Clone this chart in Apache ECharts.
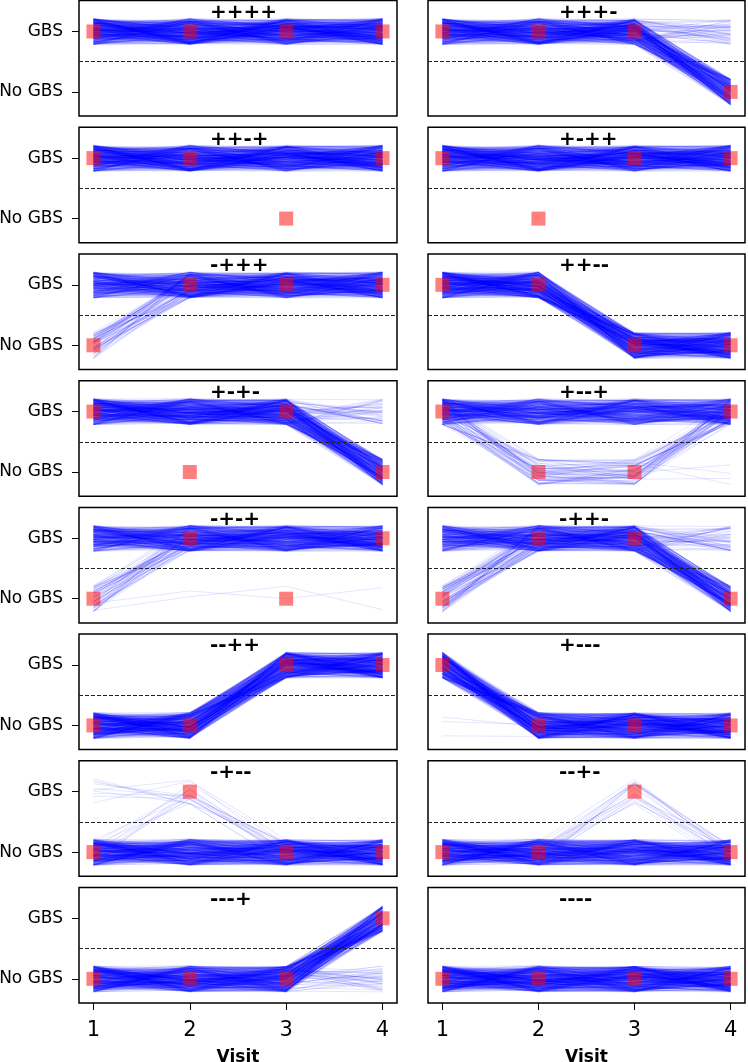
<!DOCTYPE html>
<html>
<head>
<meta charset="utf-8">
<script src="https://cdn.jsdelivr.net/npm/echarts@6/dist/echarts.min.js"></script>
<style>
html,body{margin:0;padding:0;background:#fff;}
#chart{width:748px;height:1062px;}
</style>
</head>
<body>
<div id="chart"></div>
<script>
// ---- data ----
const titles = ["++++","+++-","++-+","+-++","-+++","++--","+-+-","+--+","-+-+","-++-","--++","+---","-+--","--+-","---+","----"];
const visits = [1, 2, 3, 4];
const yTickValues = [0, 1];
const yTickLabels = ["No GBS", "GBS"];
// observed pattern per panel (1 = GBS, 0 = No GBS)
const observed = [
  [1,1,1,1],[1,1,1,0],[1,1,0,1],[1,0,1,1],
  [0,1,1,1],[1,1,0,0],[1,0,1,0],[1,0,0,1],
  [0,1,0,1],[0,1,1,0],[0,0,1,1],[1,0,0,0],
  [0,1,0,0],[0,0,1,0],[0,0,0,1],[0,0,0,0]
];
// predicted trajectories per panel: [pattern, number of draws]
const predicted = [
  [[[1,1,1,1],400]],
  [[[1,1,1,0],330],[[1,1,1,1],50]],
  [[[1,1,1,1],400]],
  [[[1,1,1,1],400]],
  [[[1,1,1,1],300],[[0,1,1,1],70]],
  [[[1,1,0,0],400]],
  [[[1,1,1,0],340],[[1,1,1,1],45]],
  [[[1,1,1,1],300],[[1,0,0,1],60],[[1,0,0,0],4]],
  [[[1,1,1,1],300],[[0,1,1,1],60],[[0,0,0,0],2]],
  [[[1,1,1,0],240],[[0,1,1,0],70],[[1,1,1,1],40],[[0,1,1,1],12]],
  [[[0,0,1,1],400]],
  [[[1,0,0,0],397],[[0,0,0,0],3]],
  [[[0,0,0,0],360],[[0,1,0,0],10],[[1,1,0,0],10]],
  [[[0,0,0,0],360],[[0,0,1,0],20]],
  [[[0,0,0,1],340],[[0,0,0,0],40]],
  [[[0,0,0,0],400]]
];
// fixed jitter offsets (display jitter of the plotted draws)
const jitter = [0.12,-0.17,0.03,0.19,-0.08,-0.14,0.07,-0.02,0.16,-0.19,0.10,-0.05,0.01,0.18,-0.11,0.06,-0.16,0.14,-0.03,0.09,
  -0.20,0.04,0.15,-0.09,-0.13,0.11,0.00,-0.18,0.17,-0.06,0.08,-0.12,0.20,-0.01,0.05,-0.15,0.13,-0.07,0.02,-0.19,
  0.18,-0.10,0.07,0.14,-0.04,-0.17,0.10,-0.13,0.03,0.16,-0.08,0.19,-0.02,-0.11,0.06,0.12,-0.16,0.01,-0.06,0.15,
  -0.20,0.09,-0.14,0.04,0.17,-0.09,0.11,-0.03,-0.18,0.13,0.02,-0.12,0.08,-0.05,0.20,-0.15,0.05,-0.07,0.14,-0.10,
  0.18,-0.01,-0.16,0.10,0.07,-0.19,0.03,0.16,-0.04,-0.12,0.12,-0.08,0.01,0.19,-0.14,0.06,-0.17];

// ---- layout ----
const FONT = "DejaVu Sans";
const colLeft = [79, 428];
const colWidth = [318, 317];
const rowTop0 = 0.6, rowStep = 126.7, panelH = 115.5;
const L = jitter.length, M = L - 8;
const SPREAD = 0.215;
function jit(k, v){
  const a = (jitter[(k + 31 * v) % L] + 0.2) / 0.4;
  const b = (jitter[(5 * k + 13 * v + 7) % M] + 0.2) / 0.4;
  const u = (a + b) % 1;
  return -SPREAD + 2 * SPREAD * u;
}

const grids = [], xAxes = [], yAxes = [], series = [], titleArr = [];
for (let i = 0; i < titles.length; i++) {
  const row = Math.floor(i / 2), col = i % 2;
  const top = rowTop0 + row * rowStep;
  const isBottom = row === 7, isLeft = col === 0;
  grids.push({left: colLeft[col], top: top, width: colWidth[col], height: panelH,
    outerBoundsMode: 'none', containLabel: false,
    show: true, borderColor: '#000', borderWidth: 1.5, backgroundColor: 'transparent'});
  xAxes.push({gridIndex: i, type: 'value', min: 0.85, max: 4.15, position: 'bottom',
    axisLine: {show: false, onZero: false}, splitLine: {show: false},
    axisTick: {show: isBottom, customValues: visits, length: 7, lineStyle: {color: '#000', width: 1}},
    axisLabel: {show: isBottom, customValues: visits, fontSize: 21, color: '#000', fontFamily: FONT, margin: 17},
    name: isBottom ? 'Visit' : '', nameLocation: 'middle', nameGap: 46,
    nameTextStyle: {fontWeight: 'bold', fontSize: 17, color: '#000', fontFamily: FONT}});
  yAxes.push({gridIndex: i, type: 'value', min: -0.40, max: 1.51, position: 'left',
    axisLine: {show: false, onZero: false}, splitLine: {show: false},
    axisTick: {show: isLeft, customValues: yTickValues, length: 7, lineStyle: {color: '#000', width: 1}},
    axisLabel: {show: isLeft, customValues: yTickValues, fontSize: 17, color: '#000', fontFamily: FONT, margin: 16,
      formatter: function(v){ const idx = yTickValues.indexOf(Math.round(v)); return idx >= 0 ? yTickLabels[idx] : ''; }}});
  // predicted trajectories + threshold line
  const lineData = [];
  let k = i * 17;
  predicted[i].forEach(function(g){
    const pat = g[0], n = g[1];
    for (let m = 0; m < n; m++) {
      lineData.push({coords: visits.map((x, v) => [x, pat[v] + jit(k, v)])});
      k++;
    }
  });
  series.push({type: 'lines', coordinateSystem: 'cartesian2d', xAxisIndex: i, yAxisIndex: i,
    polyline: true, silent: true, z: 2, large: false,
    lineStyle: {color: '#0000ff', width: 1, opacity: 0.1},
    data: lineData,
    markLine: {silent: true, symbol: 'none', label: {show: false},
      lineStyle: {type: [4, 2], color: '#222', width: 1, opacity: 1},
      data: [{yAxis: 0.5}]}});
  // observed markers (drawn on top, semi-transparent red)
  series.push({type: 'scatter', xAxisIndex: i, yAxisIndex: i, z: 4, silent: true,
    symbol: 'rect', symbolSize: 14,
    itemStyle: {color: '#ff0000', opacity: 0.5},
    data: observed[i].map((y, v) => [visits[v], y])});
  titleArr.push({text: titles[i], left: colLeft[col] + 131, top: top + 2, padding: 0,
    textStyle: {fontSize: 20, fontWeight: 'bold', color: '#000', fontFamily: FONT}});
}

const chart = echarts.init(document.getElementById('chart'), null, {renderer: 'canvas'});
chart.setOption({
  backgroundColor: '#fff',
  animation: false,
  title: titleArr,
  grid: grids,
  xAxis: xAxes,
  yAxis: yAxes,
  series: series
});
</script>
</body>
</html>
